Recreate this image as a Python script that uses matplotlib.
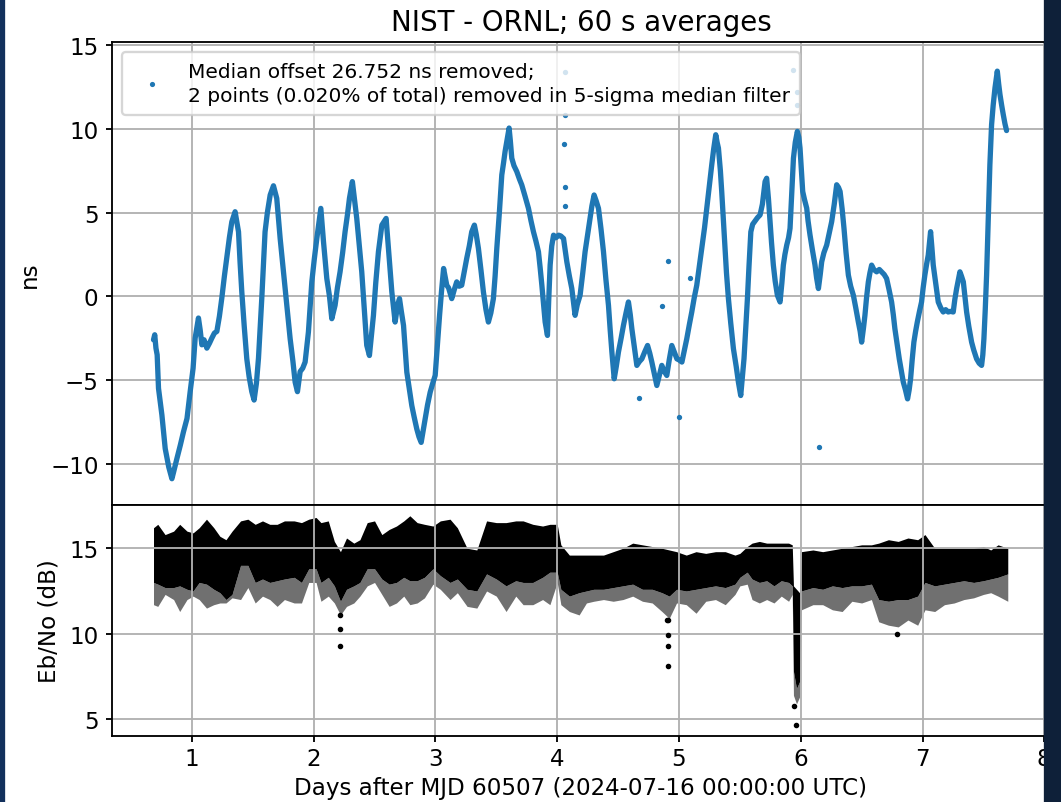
import matplotlib
matplotlib.use("Agg")
import matplotlib.pyplot as plt
from matplotlib.lines import Line2D
from matplotlib.patches import Rectangle

# ---------------- data ----------------
# Time offset NIST - ORNL (ns), days after MJD 60507
ns_days = [0.685, 0.695, 0.705, 0.715, 0.726, 0.754, 0.781, 0.81, 0.836, 0.85, 0.877, 0.905, 0.931, 0.96, 0.986,
           1.01, 1.027, 1.054, 1.068, 1.082, 1.10, 1.123, 1.145, 1.164, 1.185, 1.205, 1.226, 1.246, 1.267, 1.287,
           1.308, 1.328, 1.355, 1.383, 1.396, 1.41, 1.43, 1.451, 1.47, 1.492, 1.511, 1.53, 1.547, 1.56, 1.574,
           1.588, 1.601, 1.62, 1.643, 1.67, 1.697, 1.71, 1.725, 1.745, 1.766, 1.787, 1.807, 1.83, 1.848, 1.867,
           1.889, 1.91, 1.93, 1.957, 1.985, 2.005, 2.026, 2.045, 2.059, 2.081, 2.108, 2.13, 2.149, 2.176, 2.195,
           2.217, 2.238, 2.258, 2.278, 2.294, 2.318, 2.335, 2.354, 2.375, 2.395, 2.415, 2.436, 2.458, 2.475, 2.491,
           2.51, 2.532, 2.56, 2.595, 2.614, 2.642, 2.669, 2.69, 2.705, 2.72, 2.738, 2.765, 2.785, 2.806, 2.825,
           2.847, 2.865, 2.883, 2.90, 2.916, 2.935, 2.957, 2.978, 2.998, 3.015, 3.034, 3.05, 3.067, 3.093, 3.108,
           3.134, 3.155, 3.175, 3.195, 3.216, 3.235, 3.257, 3.278, 3.298, 3.32, 3.335, 3.353, 3.375, 3.394, 3.415,
           3.435, 3.455, 3.476, 3.49, 3.504, 3.525, 3.545, 3.56, 3.572, 3.59, 3.605, 3.615, 3.627, 3.645, 3.668,
           3.69, 3.709, 3.735, 3.764, 3.785, 3.805, 3.825, 3.846, 3.86, 3.874, 3.888, 3.901, 3.92, 3.93, 3.942,
           3.955, 3.97, 3.99, 4.011, 4.03, 4.052, 4.065, 4.079, 4.10, 4.12, 4.135, 4.147, 4.165, 4.188, 4.21,
           4.229, 4.25, 4.27, 4.285, 4.303, 4.32, 4.339, 4.36, 4.38, 4.40, 4.421, 4.435, 4.449, 4.468, 4.485,
           4.503, 4.525, 4.544, 4.565, 4.585, 4.60, 4.613, 4.635, 4.654, 4.675, 4.695, 4.72, 4.742, 4.76, 4.777,
           4.80, 4.818, 4.84, 4.859, 4.88, 4.90, 4.92, 4.941, 4.96, 4.983, 5.00, 5.024, 5.045, 5.064, 5.085,
           5.105, 5.125, 5.146, 5.165, 5.187, 5.21, 5.228, 5.25, 5.269, 5.285, 5.302, 5.313, 5.324, 5.34, 5.351,
           5.365, 5.379, 5.39, 5.406, 5.425, 5.447, 5.47, 5.488, 5.507, 5.52, 5.534, 5.548, 5.562, 5.575, 5.59,
           5.605, 5.625, 5.645, 5.666, 5.685, 5.707, 5.72, 5.735, 5.748, 5.76, 5.775, 5.79, 5.808, 5.83, 5.845,
           5.857, 5.87, 5.885, 5.90, 5.912, 5.925, 5.94, 5.955, 5.972, 5.984, 5.994, 6.005, 6.016, 6.03, 6.049,
           6.06, 6.076, 6.095, 6.117, 6.13, 6.145, 6.16, 6.172, 6.19, 6.213, 6.235, 6.254, 6.275, 6.295, 6.31,
           6.323, 6.34, 6.355, 6.372, 6.391, 6.41, 6.432, 6.452, 6.473, 6.488, 6.50, 6.515, 6.527, 6.54, 6.555,
           6.568, 6.582, 6.60, 6.623, 6.645, 6.664, 6.685, 6.705, 6.725, 6.746, 6.76, 6.773, 6.79, 6.809, 6.825,
           6.842, 6.86, 6.877, 6.89, 6.902, 6.915, 6.929, 6.943, 6.957, 6.975, 6.992, 7.005, 7.019, 7.033, 7.047,
           7.057, 7.066, 7.077, 7.088, 7.108, 7.129, 7.15, 7.17, 7.19, 7.211, 7.23, 7.252, 7.265, 7.28, 7.295,
           7.307, 7.32, 7.335, 7.348, 7.362, 7.38, 7.403, 7.42, 7.444, 7.465, 7.485, 7.495, 7.504, 7.515, 7.526,
           7.533, 7.54, 7.547, 7.553, 7.56, 7.567, 7.58, 7.595, 7.605, 7.614, 7.625, 7.636, 7.65, 7.663, 7.677,
           7.69]
ns_offset = [-2.6, -2.3, -3.1, -3.5, -5.5, -7.1, -9.1, -10.2, -10.9, -10.5, -9.7, -8.9, -8.1, -7.3, -5.7,
             -4.3, -2.5, -1.3, -2.0, -2.9, -2.6, -3.1, -2.8, -2.5, -2.2, -2.1, -1.2, -0.1, 1.2, 2.3,
             3.5, 4.45, 5.05, 3.85, 2.0, 0.26, -1.8, -3.74, -4.8, -5.7, -6.2, -5.2, -3.7, -2.0, -0.14,
             2.0, 3.85, 5.0, 6.05, 6.6, 5.85, 4.7, 3.45, 2.0, 0.46, -1.0, -2.54, -3.9, -5.13, -5.7,
             -4.5, -4.3, -3.93, -2.14, 0.86, 2.2, 3.45, 4.5, 5.25, 3.25, 1.06, 0.0, -1.34, -0.54, 0.5,
             1.46, 2.6, 3.85, 4.9, 5.85, 6.85, 5.8, 4.65, 3.0, 1.46, -0.7, -2.93, -3.54, -2.3, -1.14,
             0.8, 2.66, 4.25, 4.65, 2.86, 0.26, -1.54, -0.5, -0.14, -0.9, -1.74, -4.53, -5.5, -6.53, -7.2,
             -7.93, -8.4, -8.73, -8.0, -7.33, -6.5, -5.73, -5.2, -4.73, -3.0, -1.14, 0.3, 1.66, 0.66, 0.5,
             -0.14, 0.4, 0.86, 0.6, 0.66, 1.4, 2.26, 3.0, 3.85, 4.25, 3.7, 2.86, 1.5, 0.26, -0.8,
             -1.54, -1.0, -0.14, 1.2, 2.86, 5.0, 7.25, 8.0, 8.65, 9.4, 10.05, 9.3, 8.25, 7.8, 7.45,
             7.0, 6.65, 6.0, 5.25, 4.5, 3.85, 3.3, 2.66, 1.7, 0.66, -0.5, -1.54, -2.34, -0.3, 1.86,
             3.0, 3.65, 3.5, 3.65, 3.6, 3.45, 2.8, 2.06, 1.2, 0.46, -0.4, -1.14, -0.5, 0.06, 1.4,
             2.66, 3.7, 4.65, 5.4, 6.05, 5.7, 5.25, 4.0, 2.66, 1.0, -0.54, -2.0, -3.33, -4.93, -4.2,
             -3.33, -2.5, -1.74, -1.0, -0.34, -1.1, -1.94, -3.1, -4.13, -3.9, -3.74, -3.3, -2.94, -3.4, -3.93,
             -4.7, -5.33, -4.7, -4.13, -4.5, -4.73, -3.8, -2.94, -3.3, -3.74, -3.8, -3.93, -3.2, -2.54, -1.7,
             -0.94, -0.1, 0.66, 1.7, 2.86, 4.1, 5.25, 6.6, 7.85, 8.8, 9.65, 9.2, 8.85, 7.5, 6.25,
             4.5, 2.86, 1.4, -0.14, -1.6, -3.13, -4.2, -5.13, -5.93, -4.9, -3.73, -1.9, -0.14, 1.8, 3.85,
             4.3, 4.5, 4.7, 4.86, 5.5, 6.85, 7.05, 5.8, 4.46, 3.2, 1.86, 0.9, 0.06, -0.34, 0.8,
             1.86, 2.5, 3.06, 3.5, 4.06, 6.0, 8.25, 9.2, 9.85, 9.5, 8.85, 7.5, 6.26, 5.8, 5.26,
             4.5, 3.66, 2.8, 1.86, 1.1, 0.46, 1.3, 2.06, 2.6, 3.06, 3.8, 4.46, 5.5, 6.66, 6.5,
             6.26, 5.2, 4.06, 2.6, 1.26, 0.6, 0.06, -0.7, -1.54, -2.1, -2.74, -1.9, -1.14, -0.1, 0.86,
             1.4, 1.86, 1.6, 1.46, 1.6, 1.46, 1.3, 1.06, 0.4, -0.34, -1.1, -1.94, -2.8, -3.74, -4.4,
             -5.13, -5.6, -6.13, -5.6, -4.93, -3.8, -2.74, -2.1, -1.54, -0.9, -0.34, 0.5, 1.26, 1.9, 2.46,
             3.2, 3.86, 2.9, 1.86, 0.8, -0.34, -0.7, -0.94, -0.8, -0.94, -0.9, -0.94, -0.2, 0.46, 1.0,
             1.46, 1.2, 0.86, 0.0, -0.94, -1.8, -2.74, -3.2, -3.74, -4.0, -4.13, -3.5, -2.54, -0.8, 1.26,
             3.0, 4.86, 6.4, 7.85, 9.0, 10.25, 11.4, 12.45, 13.0, 13.45, 12.7, 12.05, 11.4, 10.85, 10.3,
             9.9]
# isolated points in the offset panel
ns_out_days = [4.065, 4.063, 4.052, 4.065, 4.06, 4.913, 4.859, 5.00, 5.091, 4.67, 6.150, 5.967, 5.967, 5.94]
ns_out_vals = [13.4, 10.8, 9.1, 6.5, 5.4, 2.1, -0.57, -7.2, 1.1, -6.1, -9.02, 12.2, 11.4, 13.5]

# Eb/No (dB): upper edge, lower edge of dense core, lower edge of sparse fringe
eb_days = [0.685, 0.72, 0.78, 0.85, 0.90, 0.96, 1.01, 1.06, 1.12, 1.18, 1.23, 1.28, 1.33, 1.40, 1.46,
           1.52, 1.58, 1.64, 1.70, 1.76, 1.84, 1.90, 1.96, 2.02, 2.06, 2.12, 2.17, 2.22, 2.27, 2.33,
           2.38, 2.44, 2.50, 2.56, 2.62, 2.68, 2.74, 2.79, 2.85, 2.91, 2.98, 3.04, 3.12, 3.18, 3.26,
           3.34, 3.42, 3.50, 3.58, 3.66, 3.72, 3.80, 3.88, 3.94, 4.00, 4.03, 4.10, 4.18, 4.24, 4.30,
           4.38, 4.46, 4.54, 4.62, 4.70, 4.78, 4.86, 4.92, 4.98, 5.06, 5.14, 5.22, 5.30, 5.38, 5.46,
           5.50, 5.56, 5.60, 5.66, 5.72, 5.78, 5.84, 5.90, 5.93, 5.94, 5.965, 5.99, 6.005, 6.10, 6.18,
           6.26, 6.34, 6.42, 6.50, 6.58, 6.64, 6.72, 6.80, 6.88, 6.96, 7.02, 7.10, 7.18, 7.26, 7.34,
           7.42, 7.50, 7.56, 7.62, 7.70]
eb_top = [16.2, 16.4, 15.8, 16.0, 16.4, 16.0, 15.9, 16.2, 16.7, 16.2, 15.7, 15.5, 16.0, 16.6, 16.7,
          16.4, 16.6, 16.4, 16.4, 16.6, 16.6, 16.5, 16.7, 16.8, 16.5, 16.6, 15.4, 14.8, 15.6, 15.3,
          15.5, 16.5, 16.6, 15.8, 16.1, 16.3, 16.6, 16.9, 16.5, 16.4, 16.3, 16.6, 16.7, 16.2, 15.0,
          14.9, 16.6, 16.5, 16.5, 16.6, 16.6, 16.4, 16.3, 16.4, 16.4, 15.2, 14.6, 14.6, 14.6, 14.6,
          14.6, 14.8, 15.0, 15.3, 15.2, 15.1, 15.0, 14.9, 14.8, 14.6, 14.8, 14.7, 14.8, 14.8, 14.6,
          14.7, 15.1, 15.3, 15.4, 15.3, 15.3, 15.3, 15.3, 15.2, 12.8, 12.6, 12.4, 14.8, 14.9, 14.8,
          14.9, 15.0, 15.1, 15.2, 15.2, 15.3, 15.5, 15.4, 15.6, 15.5, 15.8, 15.0, 15.0, 15.0, 15.0,
          15.0, 15.1, 14.9, 15.2, 15.0]
eb_core_low = [13.0, 12.9, 12.7, 12.7, 12.8, 12.6, 12.5, 13.0, 12.9, 12.6, 12.4, 12.0, 12.3, 14.0, 14.0,
               13.0, 13.2, 13.0, 13.1, 13.2, 13.3, 13.0, 13.8, 13.8, 13.0, 13.3, 12.8, 11.9, 12.6, 12.8,
               13.0, 13.8, 13.8, 13.2, 12.9, 13.0, 13.3, 13.1, 13.1, 13.3, 13.8, 13.4, 13.0, 13.2, 12.6,
               12.5, 13.5, 13.2, 12.8, 13.1, 13.0, 13.0, 13.3, 13.6, 13.6, 12.6, 12.2, 12.4, 12.5, 12.6,
               12.6, 12.7, 12.8, 12.9, 12.6, 12.6, 12.4, 12.2, 12.6, 12.5, 12.6, 12.7, 12.8, 12.7, 12.9,
               13.3, 13.6, 13.2, 13.0, 13.1, 12.8, 13.1, 13.0, 12.8, 7.8, 6.8, 7.2, 12.5, 12.7, 12.6,
               12.8, 12.7, 12.8, 12.8, 12.9, 12.0, 11.9, 12.0, 12.0, 12.2, 13.0, 12.8, 12.9, 13.0, 13.1,
               13.0, 13.1, 13.2, 13.3, 13.5]
eb_sparse_low = [11.7, 11.6, 12.3, 12.0, 11.3, 12.0, 12.2, 12.0, 11.5, 11.7, 11.8, 11.8, 12.1, 12.0, 12.7,
                 11.8, 12.2, 12.0, 11.6, 12.0, 11.8, 11.8, 13.0, 13.0, 11.9, 12.2, 11.8, 11.1, 11.6, 11.8,
                 12.2, 12.8, 13.0, 12.3, 11.6, 11.8, 12.2, 11.7, 11.8, 12.1, 12.9, 12.6, 12.0, 12.4, 11.6,
                 11.5, 12.5, 12.2, 11.3, 12.2, 11.7, 11.7, 12.0, 11.7, 13.0, 11.7, 11.3, 11.1, 11.8, 11.9,
                 12.0, 11.9, 12.0, 12.2, 11.9, 11.8, 11.3, 10.9, 11.8, 11.7, 11.2, 11.9, 12.0, 11.7, 12.3,
                 12.8, 12.9, 12.0, 11.8, 12.0, 11.8, 12.2, 11.9, 12.3, 6.4, 5.9, 6.3, 11.4, 11.7, 11.7,
                 11.4, 11.3, 11.9, 11.8, 12.0, 10.7, 10.5, 10.4, 10.8, 10.5, 11.4, 11.3, 11.7, 11.8, 12.0,
                 12.1, 12.3, 12.4, 12.2, 11.9]
# isolated Eb/No points
eb_out_days = [2.218, 2.218, 2.22, 4.913, 4.913, 4.913, 4.913, 4.90, 5.96, 5.945, 6.788]
eb_out_vals = [11.1, 10.28, 9.3, 10.8, 9.9, 9.3, 8.13, 10.8, 4.66, 5.8, 9.97]

title = "NIST - ORNL; 60 s averages"
legend_text = ("Median offset 26.752 ns removed;\n"
               "2 points (0.020% of total) removed in 5-sigma median filter")
xlabel = "Days after MJD 60507 (2024-07-16 00:00:00 UTC)"

# ---------------- figure ----------------
DPI = 165.8
fig = plt.figure(figsize=(1061 / DPI, 803 / DPI), dpi=DPI, facecolor="white")
W, H = 1061.0, 803.0
x0, x1 = 111.5, 1050.4
ax1 = fig.add_axes([x0 / W, 1 - 506 / H, (x1 - x0) / W, 463 / H])
ax2 = fig.add_axes([x0 / W, 1 - 737 / H, (x1 - x0) / W, 231 / H], sharex=ax1)

blue = "#1f77b4"
ax1.plot(ns_days, ns_offset, "-", color=blue, lw=2.3, solid_joinstyle="round", solid_capstyle="round")
ax1.plot(ns_out_days, ns_out_vals, "o", color=blue, ms=1.3, ls="none")
ax1.set_xlim(0.34, 8.05)
ax1.set_ylim(-12.47, 15.19)
ax1.set_ylabel("ns")
ax1.set_title(title, fontsize=12, pad=5)
ax1.grid(True)
ax1.tick_params(labelbottom=False)
handle = Line2D([], [], ls="none", marker=".", ms=2.5, color=blue)
leg = ax1.legend([handle], [legend_text], loc="upper left", fontsize=8.75, borderpad=0.5)
for t in leg.get_texts():
    t.set_linespacing(1.3)

ax2.fill_between(eb_days, eb_sparse_low, eb_core_low, color="#707070", lw=0)
ax2.fill_between(eb_days, eb_core_low, eb_top, color="black", lw=0)
ax2.plot(eb_out_days, eb_out_vals, "o", color="black", ms=1.4, ls="none")
ax2.set_ylim(4.02, 17.53)
ax2.set_yticks([5, 10, 15])
ax2.set_xticks([1, 2, 3, 4, 5, 6, 7, 8])
ax2.set_ylabel("Eb/No (dB)")
ax2.set_xlabel(xlabel, labelpad=2.8)
ax2.grid(True)

for ax in (ax1, ax2):
    ax.tick_params(axis="both", length=2.6)
    ax.tick_params(axis="y", pad=3.0)
    ax.tick_params(axis="x", pad=2.0)

# dark screenshot borders
fig.add_artist(Rectangle((0, 0), 3.5 / W, 1, transform=fig.transFigure, color="#12305c", zorder=20))
fig.add_artist(Rectangle((1045 / W, 0), 16 / W, 1, transform=fig.transFigure, color="#0e2039", zorder=20))

fig.savefig("out.png", dpi=DPI, facecolor="white")
